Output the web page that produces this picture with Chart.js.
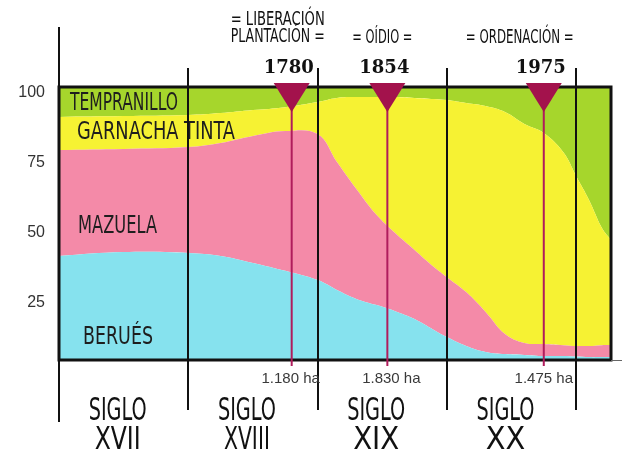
<!DOCTYPE html>
<html>
<head>
<meta charset="utf-8">
<script src="https://cdn.jsdelivr.net/npm/chart.js@4/dist/chart.umd.min.js"></script>
<style>
  body { margin: 0; background: #fff; }
  #wrap { width: 627px; height: 460px; }
</style>
</head>
<body>
<div id="wrap"><canvas id="varietyChart" width="627" height="460"></canvas></div>
<script>
// share of vineyard (%) per grape variety
const years = [1600, 1650, 1700, 1725, 1750, 1775, 1800, 1815, 1830, 1845, 1860, 1875, 1890, 1900, 1915, 1930, 1945, 1960, 1975, 1990, 2000, 2010, 2020, 2027];
const berues      = [37.9, 39.3, 39.0, 37.9, 35.3, 32.4, 29.0, 25.4, 22.1, 19.9, 17.6, 14.7, 10.7, 8.1, 4.8, 2.6, 1.8, 1.5, 1.1, 1.1, 0.9, 0.7, 0.7, 0.7];
const mazuela     = [38.9, 37.9, 38.9, 41.5, 46.7, 51.4, 53.7, 47.0, 40.4, 33.4, 28.7, 25.4, 23.1, 22.0, 19.8, 14.7, 7.4, 4.4, 4.4, 4.0, 3.9, 4.1, 4.4, 4.4];
const garnacha    = [12.2, 12.1, 11.8, 11.0, 9.5, 8.8, 11.8, 23.6, 33.8, 43.0, 50.0, 55.9, 61.8, 65.1, 69.5, 75.7, 81.6, 80.5, 77.6, 71.0, 62.5, 53.7, 43.1, 38.7];
const tempranillo = [11.0, 10.7, 10.3, 9.6, 8.5, 7.4, 5.5, 4.0, 3.7, 3.7, 3.7, 4.0, 4.4, 4.8, 5.9, 7.0, 9.2, 13.6, 16.9, 23.9, 32.7, 41.5, 51.8, 56.2];
const seriesNames = ['BERUÉS', 'MAZUELA', 'GARNACHA TINTA', 'TEMPRANILLO'];

// the printed y labels sit a little off the box, these are their places on the % scale
const yTickLabels = ['100', '75', '50', '25'];
const yTickValues = [97.8, 72.1, 46.3, 20.6];

const centuryYears = [1600, 1700, 1800, 1900, 2000];
const centuryNames = [['SIGLO', 'XVII'], ['SIGLO', 'XVIII'], ['SIGLO', 'XIX'], ['SIGLO', 'XX']];

const eventYears = [1780, 1854, 1975];
const eventTitles = [['= LIBERACIÓN', 'PLANTACIÓN ='], ['= OÍDIO ='], ['= ORDENACIÓN =']];
const eventAreas = ['1.180 ha', '1.830 ha', '1.475 ha'];

const colors = ['#86E2EE', '#F48AA8', '#F6F233', '#A6D62C'];
const HAND = "'Liberation Sans Narrow', 'DejaVu Sans Condensed', sans-serif";

const allSeries = [berues, mazuela, garnacha, tempranillo];
const datasets = allSeries.map((vals, i) => ({
    label: seriesNames[i],
    data: vals.map((v, j) => ({ x: years[j], y: v })),
    backgroundColor: colors[i],
    borderWidth: 0,
    pointRadius: 0,
    fill: i === 0 ? 'origin' : '-1',
    tension: 0.4
}));

const decor = {
    id: 'decor',
    afterDatasetsDraw(chart) {
        const { ctx, chartArea: a, scales: { x } } = chart;
        ctx.save();

        // variety names inside the bands
        const inside = [[24, 337, 70], [19, 226, 79], [18, 132, 158], [11, 103, 108]];
        ctx.fillStyle = '#1e1e1e';
        ctx.font = '25px ' + HAND;
        ctx.textAlign = 'left';
        ctx.textBaseline = 'middle';
        seriesNames.forEach((n, i) => {
            ctx.fillText(n, a.left + inside[i][0], inside[i][1], inside[i][2]);
        });

        // century dividers
        ctx.strokeStyle = '#111';
        ctx.lineWidth = 2;
        centuryYears.forEach((yr, i) => {
            const px = Math.round(x.getPixelForValue(yr));
            ctx.beginPath();
            ctx.moveTo(px, i === 0 ? 27 : 68);
            ctx.lineTo(px, i === 0 ? 422 : 410);
            ctx.stroke();
        });

        // frame
        ctx.lineWidth = 3;
        ctx.strokeRect(a.left, a.top, a.right - a.left, a.bottom - a.top + 1);
        ctx.lineWidth = 1;
        ctx.strokeStyle = '#666';
        ctx.beginPath();
        ctx.moveTo(a.right, a.bottom + 1.5);
        ctx.lineTo(a.right + 11, a.bottom + 1.5);
        ctx.stroke();

        // event markers
        eventYears.forEach((yr, i) => {
            const px = x.getPixelForValue(yr);
            ctx.strokeStyle = '#B01C5C';
            ctx.lineWidth = 2;
            ctx.beginPath();
            ctx.moveTo(px, 105);
            ctx.lineTo(px, 366);
            ctx.stroke();

            ctx.fillStyle = '#A3124C';
            ctx.beginPath();
            ctx.moveTo(px - 18, 83);
            ctx.lineTo(px + 18, 83);
            ctx.lineTo(px, 112);
            ctx.closePath();
            ctx.fill();

            ctx.fillStyle = '#111';
            ctx.textAlign = 'center';
            ctx.textBaseline = 'middle';
            ctx.font = "bold 18px 'DejaVu Serif', serif";
            ctx.fillText(String(yr), px - 3, 68);

            const shift = [-14, -5, -24][i];
            const widths = [94, 60, 108][i];
            ctx.font = '19px ' + HAND;
            const lines = eventTitles[i];
            lines.forEach((t, k) => {
                const ty = lines.length === 2 ? 20 + k * 17 : 38;
                ctx.fillText(t, px + shift, ty, widths);
            });

            ctx.fillStyle = '#3a3a3a';
            ctx.font = "15px 'Liberation Sans', Arial, sans-serif";
            ctx.fillText(eventAreas[i], px + [-1, 4, 0][i], 379);
        });

        // century names under the axis
        ctx.fillStyle = '#111';
        ctx.textAlign = 'center';
        ctx.textBaseline = 'middle';
        centuryNames.forEach((pair, i) => {
            const mid = (x.getPixelForValue(centuryYears[i]) + x.getPixelForValue(centuryYears[i + 1])) / 2 - 6;
            ctx.font = '32px ' + HAND;
            ctx.fillText(pair[0], mid, 412, 58);
            ctx.fillText(pair[1], mid, 441, 46);
        });

        ctx.restore();
    }
};

new Chart(document.getElementById('varietyChart'), {
    type: 'line',
    data: { datasets },
    options: {
        responsive: false,
        animation: false,
        layout: { padding: { top: 87, right: 16, bottom: 101, left: 0 } },
        plugins: { legend: { display: false }, tooltip: { enabled: false } },
        scales: {
            x: { type: 'linear', min: 1600, max: 2027, display: false },
            y: {
                stacked: true,
                min: 0,
                max: 100,
                grid: { display: false, drawTicks: false },
                border: { display: false },
                afterFit: s => { s.width = 59; },
                afterBuildTicks: s => { s.ticks = yTickValues.map(v => ({ value: v })); },
                ticks: {
                    padding: 14,
                    color: '#333',
                    font: { family: "'Liberation Sans', Arial, sans-serif", size: 16 },
                    callback: (v, i) => yTickLabels[i]
                }
            }
        }
    },
    plugins: [decor]
});
</script>
</body>
</html>
